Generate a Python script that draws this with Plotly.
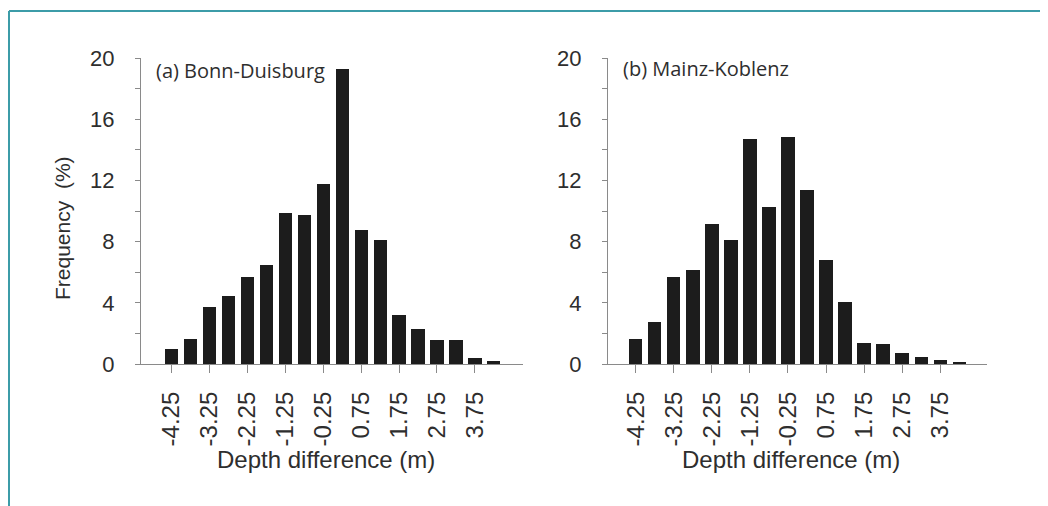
import plotly.graph_objects as go

# ---- data ----
bin_centers = [-4.25, -3.75, -3.25, -2.75, -2.25, -1.75, -1.25, -0.75, -0.25,
               0.25, 0.75, 1.25, 1.75, 2.25, 2.75, 3.25, 3.75, 4.25]
freq_bonn_duisburg = [0.98, 1.61, 3.73, 4.44, 5.66, 6.45, 9.89, 9.72, 11.79,
                      19.26, 8.74, 8.13, 3.18, 2.27, 1.59, 1.55, 0.41, 0.17]
freq_mainz_koblenz = [1.66, 2.72, 5.71, 6.14, 9.15, 8.13, 14.73, 10.28, 14.86,
                      11.37, 6.80, 4.05, 1.39, 1.33, 0.70, 0.48, 0.26, 0.15]
x_tick_vals = [-4.25, -3.25, -2.25, -1.25, -0.25, 0.75, 1.75, 2.75, 3.75]
x_tick_text = ["-4.25", "-3.25", "-2.25", "-1.25", "-0.25", "0.75", "1.75", "2.75", "3.75"]
y_tick_vals = [0, 4, 8, 12, 16, 20]
panel_titles = ["(a) Bonn-Duisburg", "(b) Mainz-Koblenz"]
x_title = "Depth difference (m)"
y_title = "Frequency  (%)"

# page body has an 8px margin; figure is sized to fit the window
OFF = 8
W, H = 1048 - OFF, 506 - OFF
def px(x):
    return (x - OFF) / W
def py(y):
    return 1 - (y - OFF) / H

BAR = "#1c1c1c"
AXIS = "#8a8a8a"
TXT = "#2e2e2e"
FRAME = "#3c9ca8"

fig = go.Figure()
fig.add_trace(go.Bar(x=bin_centers, y=freq_bonn_duisburg, width=0.35,
                     marker=dict(color=BAR, line=dict(width=0)),
                     xaxis="x", yaxis="y", showlegend=False))
fig.add_trace(go.Bar(x=bin_centers, y=freq_mainz_koblenz, width=0.35,
                     marker=dict(color=BAR, line=dict(width=0)),
                     xaxis="x2", yaxis="y2", showlegend=False))

tick_font = dict(family="Liberation Sans, Arial, sans-serif", size=22, color=TXT)
xtick_font = dict(family="Liberation Sans, Arial, sans-serif", size=24, color=TXT)

def xaxis(domain, rng, anchor):
    return dict(domain=domain, range=rng, anchor=anchor,
                showline=True, linecolor=AXIS, linewidth=1.2,
                showgrid=False, zeroline=False,
                tickmode="array", tickvals=x_tick_vals, ticktext=x_tick_text,
                ticks="outside", ticklen=8, tickcolor=AXIS, tickwidth=1.2,
                tickangle=-90, tickfont=xtick_font, ticklabelstandoff=9,
                automargin=False, fixedrange=True)

def yaxis(domain, anchor):
    return dict(domain=domain, range=[0, 20], anchor=anchor,
                showline=True, linecolor=AXIS, linewidth=1.2,
                showgrid=False, zeroline=False,
                tickmode="array", tickvals=y_tick_vals,
                ticks="outside", ticklen=5, tickcolor=AXIS, tickwidth=1.2,
                minor=dict(dtick=2, tick0=0, ticks="outside", ticklen=5,
                           tickcolor=AXIS, tickwidth=1.2, showgrid=False),
                tickfont=tick_font, ticklabelstandoff=16,
                automargin=False, fixedrange=True)

ydom = [py(364), py(58)]
fig.update_layout(
    width=W, height=H,
    margin=dict(l=0, r=0, t=0, b=0),
    paper_bgcolor="white", plot_bgcolor="white",
    bargap=0,
    xaxis=xaxis([px(141), px(523)], [-5.06, 5.02], "y"),
    yaxis=yaxis(ydom, "x"),
    xaxis2=xaxis([px(608), px(987)], [-4.98, 4.98], "y2"),
    yaxis2=yaxis(ydom, "x2"),
)

ann_font = dict(family="Open Sans, sans-serif", size=20, color=TXT)
fig.add_annotation(x=px(154), y=py(70), xref="paper", yref="paper",
                   text=panel_titles[0], showarrow=False,
                   xanchor="left", yanchor="middle", font=ann_font)
fig.add_annotation(x=px(621), y=py(69), xref="paper", yref="paper",
                   text=panel_titles[1], showarrow=False,
                   xanchor="left", yanchor="middle", font=ann_font)

title_font = dict(family="Liberation Sans, Arial, sans-serif", size=24, color=TXT)
for cx in (326, 791):
    fig.add_annotation(x=px(cx), y=py(459), xref="paper", yref="paper",
                       text=x_title, showarrow=False,
                       xanchor="center", yanchor="middle", font=title_font)
fig.add_annotation(x=px(63), y=py(228), xref="paper", yref="paper",
                   text=y_title, showarrow=False, textangle=-90,
                   xanchor="center", yanchor="middle",
                   font=dict(family="Liberation Sans, Arial, sans-serif", size=21, color=TXT))

# teal frame lines (top and left)
fig.add_shape(type="line", xref="paper", yref="paper",
              x0=px(9), x1=1, y0=py(11), y1=py(11),
              line=dict(color=FRAME, width=2))
fig.add_shape(type="line", xref="paper", yref="paper",
              x0=px(9), x1=px(9), y0=py(11), y1=0,
              line=dict(color=FRAME, width=2))

fig.write_html("out.html")
